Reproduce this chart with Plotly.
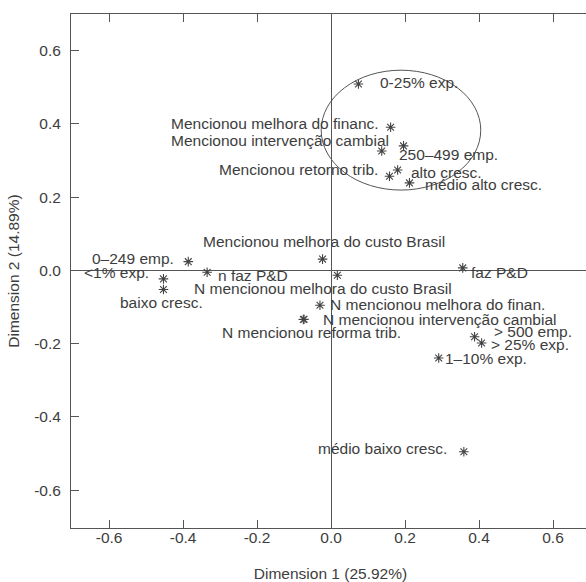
import plotly.graph_objects as go

labels = [
    "0-25% exp.", "Mencionou melhora do financ.", "Mencionou intervenção cambial",
    "250–499 emp.", "Mencionou retorno trib.", "alto cresc.", "médio alto cresc.",
    "Mencionou melhora do custo Brasil", "0–249 emp.", "<1% exp.", "baixo cresc.",
    "n faz P&D", "N mencionou melhora do custo Brasil", "N mencionou melhora do finan.",
    "N mencionou intervenção cambial", "N mencionou reforma trib.", "faz P&D",
    "> 500 emp.", "> 25% exp.", "1–10% exp.", "médio baixo cresc.",
]
dim1 = [0.074, 0.161, 0.137, 0.196, 0.158, 0.180, 0.212,
        -0.023, -0.386, -0.453, -0.453, -0.335, 0.017, -0.030,
        -0.073, -0.075, 0.356, 0.388, 0.407, 0.291, 0.359]
dim2 = [0.509, 0.391, 0.326, 0.340, 0.257, 0.274, 0.239,
        0.031, 0.024, -0.023, -0.052, -0.005, -0.013, -0.095,
        -0.133, -0.134, 0.007, -0.181, -0.198, -0.239, -0.495]

# label placement: (anchor, xshift px, yshift px)
label_pos = [
    ("left", 20, 1), ("right", -10, 4), ("right", 9, 11),
    ("left", -7, -9), ("right", -10, 7), ("left", 11, -2), ("left", 14, -2),
    ("center", 1, 18), ("right", -12, 3), ("right", -12, 6), ("center", -2, -13),
    ("left", 9, -3), ("center", -14, -13), ("left", 8, 1),
    ("left", 17, 0), ("center", 8, -13), ("left", 6, -5),
    ("left", 17, 5), ("left", 7, -2), ("left", 4, 0), ("right", -15, 3),
]

ellipse_center = (0.189, 0.383)
ellipse_radii = (0.2157, 0.1636)

xticks = [-0.6, -0.4, -0.2, 0.0, 0.2, 0.4, 0.6]
yticks = [-0.6, -0.4, -0.2, 0.0, 0.2, 0.4, 0.6]

font_family = "Liberation Sans, Arial, sans-serif"
txt_color = "#3d3d3d"
line_color = "#555555"
fsize = 15.5

fig = go.Figure()
fig.add_trace(go.Scatter(
    x=dim1, y=dim2, mode="markers",
    marker=dict(symbol="asterisk-open", size=8,
                line=dict(color="#444444", width=1.1), color="#444444"),
    hoverinfo="text", text=labels, showlegend=False,
))

for lab, x, y, (anc, xs, ys) in zip(labels, dim1, dim2, label_pos):
    fig.add_annotation(x=x, y=y, text=lab, showarrow=False, xanchor=anc,
                       yanchor="middle", xshift=xs, yshift=ys,
                       font=dict(family=font_family, size=fsize, color=txt_color))

cx, cy = ellipse_center
rx, ry = ellipse_radii
fig.add_shape(type="circle", xref="x", yref="y",
              x0=cx - rx, x1=cx + rx, y0=cy - ry, y1=cy + ry,
              line=dict(color="#555555", width=1))

def fmt(v):
    return f"{v:.1f}"

axis_common = dict(
    showgrid=False, zeroline=True, zerolinecolor=line_color, zerolinewidth=1,
    showline=True, linecolor=line_color, linewidth=1,
    ticks="inside", ticklen=8, tickcolor=line_color, tickwidth=1,
    tickfont=dict(family=font_family, size=fsize, color=txt_color),
)

fig.update_xaxes(range=[-0.703, 0.70], tickvals=xticks,
                 ticktext=[fmt(v) for v in xticks], mirror="ticks",
                 title=dict(text="Dimension 1 (25.92%)", standoff=23,
                            font=dict(family=font_family, size=fsize, color=txt_color)),
                 ticklabelstandoff=-5, **axis_common)
fig.update_yaxes(range=[-0.703, 0.70], tickvals=yticks,
                 ticktext=[fmt(v) for v in yticks], mirror=False,
                 title=dict(text="Dimension 2 (14.89%)", standoff=10,
                            font=dict(family=font_family, size=fsize, color=txt_color)),
                 ticklabelstandoff=6, **axis_common)

fig.update_layout(
    width=592, height=582,
    margin=dict(l=71, r=2, t=14, b=54),
    paper_bgcolor="white", plot_bgcolor="white",
    font=dict(family=font_family, size=fsize, color=txt_color),
)

fig.write_html(
    "out.html",
    post_script="document.documentElement.style.overflow='hidden';"
                "document.body.style.overflow='hidden';document.body.style.margin='0';",
)
